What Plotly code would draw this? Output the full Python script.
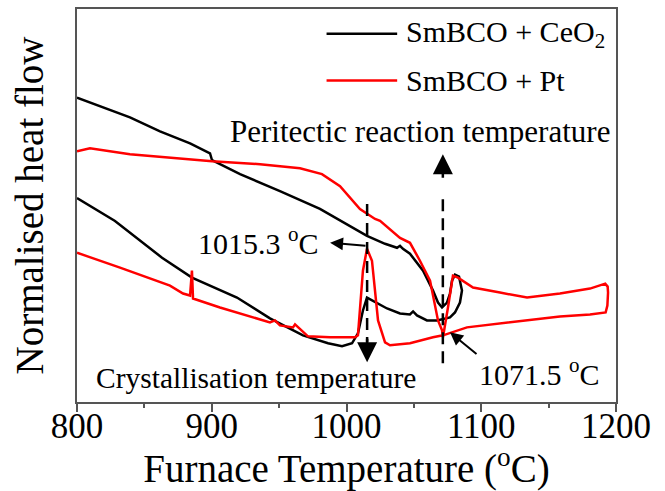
import plotly.graph_objects as go

# ---- data (y in arbitrary normalised units) ----
ceo2_T = [800, 817.1, 839.3, 861.6, 883.9, 898.7, 900.2, 921.0, 950.6, 980.3, 998.9,
          1015.2, 1028.6, 1037.5, 1039.7, 1041.9, 1047.1, 1056.8, 1064.2, 1067.9, 1070.9,
          1074.6, 1076.8, 1078.3, 1080.5, 1083.5, 1085.7, 1084.2, 1080.5, 1076.8, 1067.2,
          1059.7, 1052.3, 1049.4, 1047.1, 1039.7, 1030.1, 1019.7, 1015.2, 1012.2, 1008.5,
          1004.1, 996.7, 986.3, 967.7, 943.2, 918.7, 885.3, 863.1, 828.2, 800]
ceo2_hf = [30.6, 29.7, 28.6, 27.2, 26.0, 25.0, 24.3, 22.9, 21.2, 19.4, 18.0,
           16.7, 15.9, 15.5, 15.7, 15.4, 14.9, 13.2, 11.2, 10.0, 9.5,
           10.0, 10.9, 12.2, 12.8, 12.6, 11.2, 10.0, 9.0, 8.5, 8.2,
           8.2, 8.7, 9.1, 8.8, 8.9, 9.4, 10.2, 10.5, 9.2, 6.9,
           5.9, 5.6, 5.9, 6.7, 8.4, 10.5, 12.5, 14.5, 18.2, 20.5]

pt_T = [800, 809.6, 839.3, 900.2, 935.8, 965.5, 981.8, 995.2, 1010.0, 1021.2, 1024.9,
        1039.7, 1047.1, 1054.5, 1062.0, 1065.7, 1067.9, 1070.9, 1071.6, 1075.3, 1079.0,
        1082.7, 1093.9, 1113.9, 1134.0, 1158.4, 1180.7, 1192.0, 1193.8, 1194.1, 1193.6, 1192.3,
        1180.7, 1158.4, 1134.0, 1113.9, 1089.4, 1071.6, 1064.2, 1047.1, 1032.3, 1028.6,
        1023.4, 1018.9, 1015.2, 1012.2, 1008.5, 1006.3, 987.8, 971.4, 965.5, 961.8,
        960.3, 950.6, 946.9, 943.2, 906.1, 886.1, 885.3, 883.9, 878.7, 869.0, 831.9, 800]
pt_hf = [25.2, 25.5, 24.9, 24.2, 23.9, 23.5, 22.9, 21.7, 19.4, 18.4, 18.2,
         16.5, 16.0, 14.2, 12.2, 9.9, 8.2, 7.2, 6.5, 9.5, 12.7,
         12.5, 11.5, 11.0, 10.5, 10.9, 11.4, 11.9, 11.6, 11.0, 9.7, 9.0,
         8.8, 8.6, 8.2, 7.9, 7.5, 6.7, 6.5, 5.9, 5.7, 6.0,
         8.2, 14.2, 15.4, 13.2, 6.7, 6.5, 6.5, 6.6, 7.4, 7.8,
         7.5, 7.7, 8.2, 8.0, 9.5, 10.4, 13.2, 10.7, 10.9, 11.7, 13.5, 15.0]

series_names = ["SmBCO + CeO<sub>2</sub>", "SmBCO + Pt"]
series_colors = ["#000000", "#ff0000"]

crys_T = 1015.3
peri_T = 1071.5
x_ticks = [800, 900, 1000, 1100, 1200]

FONT = "Liberation Serif"
AX = "#555555"

fig = go.Figure()
fig.add_trace(go.Scatter(x=ceo2_T, y=ceo2_hf, mode="lines", name=series_names[0],
                         line=dict(color=series_colors[0], width=2.5), showlegend=False))
fig.add_trace(go.Scatter(x=pt_T, y=pt_hf, mode="lines", name=series_names[1],
                         line=dict(color=series_colors[1], width=2.5), showlegend=False))

# dashed guide lines
fig.add_shape(type="line", x0=crys_T, x1=crys_T, y0=19.9, y1=6.0, xref="x", yref="y",
              line=dict(color="black", width=2.5, dash="12px,7px"))
fig.add_shape(type="line", x0=peri_T, x1=peri_T, y0=3.9, y1=21.0, xref="x", yref="y",
              line=dict(color="black", width=2.5, dash="12px,7px"))

# arrow heads on dashed lines
fig.add_annotation(x=crys_T, y=4.0, ax=crys_T, ay=6.5, xref="x", yref="y", axref="x", ayref="y",
                   text="", showarrow=True, arrowhead=2, arrowsize=1.6, arrowwidth=2.5,
                   arrowcolor="black")
fig.add_annotation(x=peri_T, y=24.9, ax=peri_T, ay=22.4, xref="x", yref="y", axref="x", ayref="y",
                   text="", showarrow=True, arrowhead=2, arrowsize=1.6, arrowwidth=2.5,
                   arrowcolor="black")

# pointer arrows to the labels
fig.add_annotation(x=987.8, y=16.0, ax=1015.2, ay=15.7, xref="x", yref="y", axref="x", ayref="y",
                   text="", showarrow=True, arrowhead=2, arrowsize=1.3, arrowwidth=2,
                   arrowcolor="black")
fig.add_annotation(x=1076.8, y=7.0, ax=1097.6, ay=4.7, xref="x", yref="y", axref="x", ayref="y",
                   text="", showarrow=True, arrowhead=2, arrowsize=1.3, arrowwidth=2,
                   arrowcolor="black")

# labels
def label(x, y, text, size=30, xanchor="center"):
    fig.add_annotation(x=x, y=y, xref="x", yref="y", text=text, showarrow=False,
                       xanchor=xanchor, yanchor="middle",
                       font=dict(family=FONT, size=size, color="black"))

label(935.0, 16.2, "1015.3 <sup>o</sup>C")
label(1143.0, 3.0, "1071.5 <sup>o</sup>C")
label(1054.5, 27.2, "Peritectic reaction temperature", size=31)
label(932.8, 2.4, "Crystallisation temperature", size=29.5)

# manual legend (long line samples like the reference)
for i, (nm, col) in enumerate(zip(series_names, series_colors)):
    yy = 0.937 - i * 0.119
    fig.add_shape(type="line", xref="paper", yref="paper", x0=0.463, x1=0.594, y0=yy, y1=yy,
                  line=dict(color=col, width=2.5))
    fig.add_annotation(xref="paper", yref="paper", x=0.607, y=yy, text=nm, showarrow=False,
                       xanchor="left", yanchor="middle",
                       font=dict(family=FONT, size=30, color="black"))

fig.update_layout(
    width=665, height=491,
    margin=dict(l=77, r=49, t=7, b=89),
    paper_bgcolor="white", plot_bgcolor="white",
    font=dict(family=FONT, color="black"),
    showlegend=False,
)
fig.update_xaxes(
    range=[800, 1200], tickvals=x_ticks, ticktext=[str(v) for v in x_ticks],
    ticks="outside", ticklen=8, tickwidth=1.5, tickcolor=AX,
    minor=dict(ticks="outside", ticklen=4, tickwidth=1.5, tickcolor=AX, dtick=50, showgrid=False),
    showline=True, linecolor=AX, linewidth=1.5, mirror=True, showgrid=False, zeroline=False,
    tickfont=dict(family=FONT, size=35, color="black"),
    ticklabelstandoff=-16,
    title=dict(text="Furnace Temperature (<sup>o</sup>C)", font=dict(family=FONT, size=39, color="black"),
               standoff=2),
)
fig.update_yaxes(
    range=[0, 39.5], showticklabels=False, ticks="",
    showline=True, linecolor=AX, linewidth=1.5, mirror=True, showgrid=False, zeroline=False,
    title=dict(text="Normalised heat flow", font=dict(family=FONT, size=39, color="black"),
               standoff=20),
)

fig.write_html("out.html")
